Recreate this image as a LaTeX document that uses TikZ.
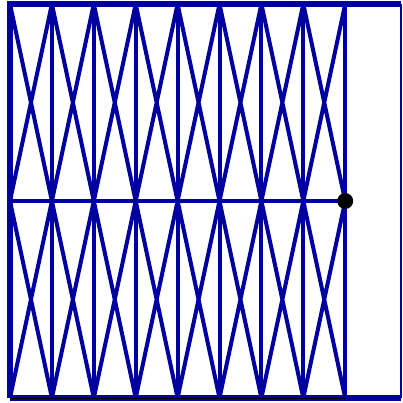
\documentclass[tikz,border=0pt]{standalone}
\usetikzlibrary{calc}
\definecolor{gblue}{RGB}{0,0,160}
\tikzset{
  frame/.style = {gblue, line width=6.5pt},
  thinframe/.style = {gblue, line width=2.4pt},
  rib/.style   = {gblue, line width=4pt},
  pin/.style   = {fill=black, circle, inner sep=0pt, minimum size=16pt},
}
\begin{document}
\begin{tikzpicture}[x=1pt,y=-1pt]
\useasboundingbox (0,0) rectangle (402,403);
% corner points of the grid
\coordinate (tl) at (10,4);
\coordinate (bl) at (10,398);
\coordinate (tr) at (400.7,4);
\coordinate (br) at (400.7,398);
% crossed bracing in each bay, upper and lower half
\foreach \i in {0,...,7}{
  \coordinate (a) at (10+41.9*\i,4);
  \coordinate (b) at (10+41.9*\i+41.9,4);
  \coordinate (c) at (10+41.9*\i,201);
  \coordinate (d) at (10+41.9*\i+41.9,201);
  \coordinate (e) at (10+41.9*\i,398);
  \coordinate (f) at (10+41.9*\i+41.9,398);
  \draw[rib] (a) -- (d) (b) -- (c);
  \draw[rib] (e) -- (d) (f) -- (c);}
% verticals
\foreach \i in {1,...,8}
  \draw[rib] (10+41.9*\i,4) -- (10+41.9*\i,398);
% middle bar and its end point
\coordinate (m0) at (10,201);
\coordinate (tip) at (345.2,201);
\draw[rib] (m0) -- (tip);
% outer frame
\draw[frame] (bl) -- (tl) -- (tr);
\draw[frame] (bl) -- (br);
\draw[thinframe] (tr) -- (br);
\draw[black, line width=1pt] (bl) -- (345.2,398);
\node[pin] (pt) at (tip) {};
\end{tikzpicture}
\end{document}
